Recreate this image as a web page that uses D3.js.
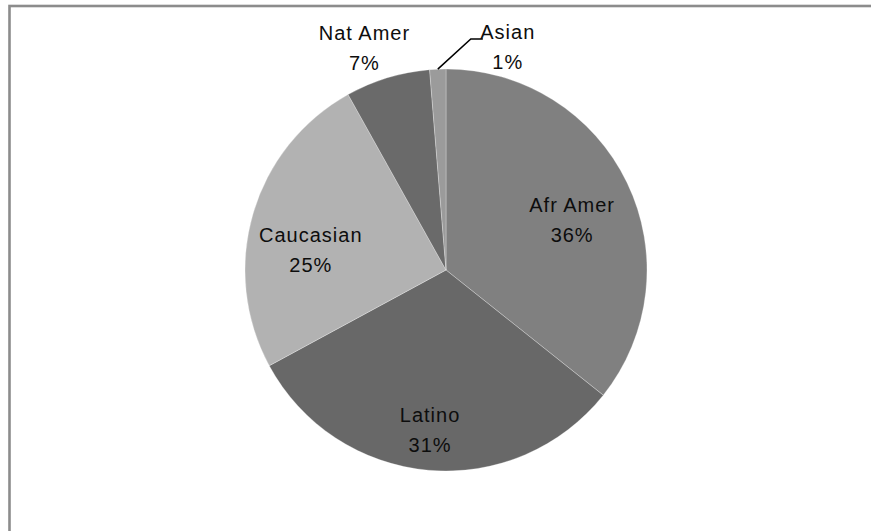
<!DOCTYPE html>
<html><head><meta charset="utf-8">
<script src="https://cdn.jsdelivr.net/npm/d3@7"></script>
<style>html,body{margin:0;padding:0;background:#fff;overflow:hidden}</style>
</head><body>
<svg id="chart" width="871" height="531"></svg>
<script>
// ---- data ----
const categories = ["Afr Amer", "Latino", "Caucasian", "Nat Amer", "Asian"];
const values = [35.7, 31.4, 24.8, 6.8, 1.3];
const pctLabels = ["36%", "31%", "25%", "7%", "1%"];

// ---- style / layout ----
const colors = ["#808080", "#686868", "#b2b2b2", "#6a6a6a", "#9b9b9b"];
// label anchor per slice: [radius fraction, angle in degrees clockwise from 12 o'clock]
const labelAnchors = [[0.675, 68.4], [0.80, 185.7], [0.68, 278.4], [1.175, 339.8], [1.15, 15.5]];

const W = 871, H = 531, cx = 446, cy = 270, R = 201;
const svg = d3.select("#chart");

// frame (only top and left visible)
svg.append("rect").attr("x", 9.5).attr("y", 6).attr("width", 900).attr("height", 600)
  .attr("fill", "none").attr("stroke", "#8c8c8c").attr("stroke-width", 2.6);

const pie = d3.pie().value(d => d).sort(null);
const arcs = pie(values);
const arc = d3.arc().innerRadius(0).outerRadius(R);

const g = svg.append("g").attr("transform", `translate(${cx},${cy})`);
g.selectAll("path").data(arcs).join("path")
  .attr("d", arc)
  .attr("fill", (d, i) => colors[i])
  .attr("stroke", "rgba(255,255,255,0.35)")
  .attr("stroke-width", 0.8);

// leader line for Asian
const asian = arcs[4];
const amid = (asian.startAngle + asian.endAngle) / 2;
const p0 = [Math.sin(amid) * R, -Math.cos(amid) * R];
g.append("polyline")
  .attr("points", [p0, [p0[0] + 33, -231], [p0[0] + 45, -231]].map(p => p.join(",")).join(" "))
  .attr("fill", "none").attr("stroke", "#000").attr("stroke-width", 1.5);

// labels
arcs.forEach((d, i) => {
  const [f, deg] = labelAnchors[i];
  const a = deg * Math.PI / 180;
  const x = Math.sin(a) * R * f, y = -Math.cos(a) * R * f;
  const t = g.append("text").attr("text-anchor", "middle")
    .attr("font-family", "Liberation Sans, Arial, sans-serif")
    .attr("font-size", 20).attr("letter-spacing", 1).attr("fill", "#0d0d0d");
  t.append("tspan").attr("x", x).attr("y", y - 8).text(categories[i]);
  t.append("tspan").attr("x", x).attr("y", y + 22).text(pctLabels[i]);
});
</script>
</body></html>
